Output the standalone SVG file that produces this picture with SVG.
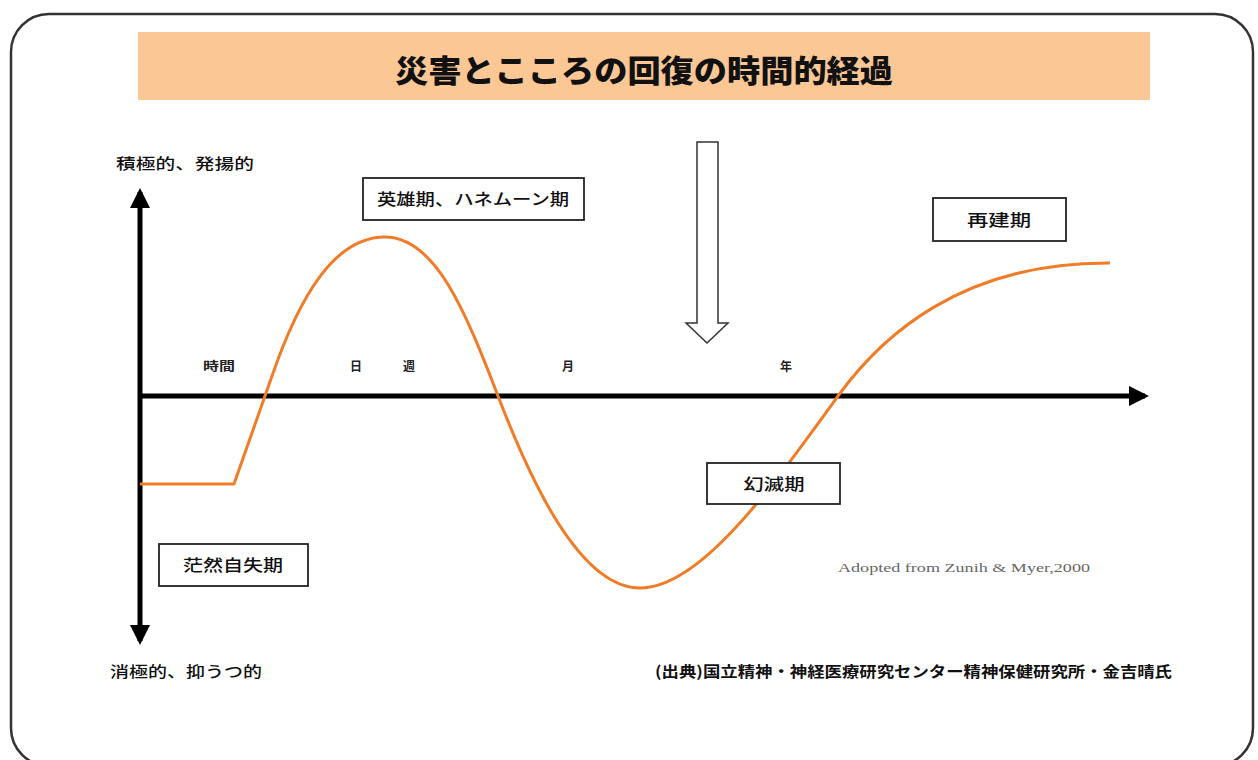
<svg xmlns="http://www.w3.org/2000/svg" width="1258" height="760" viewBox="0 0 1258 760">
<defs>
<style>
.jp{font-family:"Noto Sans CJK JP","Noto Sans CJK SC",sans-serif;fill:#111;}
.box{fill:#fff;stroke:#222;stroke-width:1.8;}
.lbl{font-size:16px;font-weight:500;}
.tick{font-size:12px;font-weight:700;fill:#222;}
.axis{stroke:#000;stroke-width:5;fill:none;}
</style>
<marker id="ah" viewBox="0 0 10 10" refX="8" refY="5" markerWidth="4" markerHeight="4" orient="auto" markerUnits="strokeWidth">
<path d="M0,0 L10,5 L0,10 z" fill="#000"/>
</marker>
</defs>
<rect width="1258" height="760" fill="#fff"/>
<rect x="11" y="14" width="1242" height="752" rx="38" ry="38" fill="none" stroke="#333" stroke-width="2.5"/>
<g id="title">
<rect x="138" y="32" width="1012" height="68" fill="#FBC795"/>
<text x="644" y="82" text-anchor="middle" class="jp" style="font-size:31px;font-weight:900" textLength="498" lengthAdjust="spacingAndGlyphs">災害とこころの回復の時間的経過</text>
</g>
<g id="connectors">
<line class="axis" x1="140" y1="396" x2="140" y2="192" marker-end="url(#ah)"/>
<line class="axis" x1="140" y1="396" x2="140" y2="641" marker-end="url(#ah)"/>
<line class="axis" x1="140" y1="396" x2="1145" y2="396" marker-end="url(#ah)"/>
<path id="curve" d="M140,484 L234,484 L272,376 C300,295 335,237 385,237 C435,237 465,310 498,396 C531,482 580,588 640,588 C700,588 770,490 838,396 C880,338 960,262 1110,263" fill="none" stroke="#F07C28" stroke-width="3" stroke-linejoin="round"/>
<path id="hollow-arrow" d="M697,142 L718,142 L718,323 L728,323 L707,343 L686,323 L697,323 Z" fill="#fff" stroke="#333" stroke-width="1.5" stroke-linejoin="miter"/>
</g>
<g id="axis-labels">
<text class="jp" x="116" y="169" style="font-size:15px;font-weight:500" textLength="138" lengthAdjust="spacingAndGlyphs">積極的、発揚的</text>
<text class="jp" x="110" y="677" style="font-size:15px;font-weight:500" textLength="152" lengthAdjust="spacingAndGlyphs">消極的、抑うつ的</text>
<text class="jp tick" x="203" y="371" textLength="32" lengthAdjust="spacingAndGlyphs">時間</text>
<text class="jp tick" x="350" y="371">日</text>
<text class="jp tick" x="403" y="371">週</text>
<text class="jp tick" x="562" y="371">月</text>
<text class="jp tick" x="780" y="371">年</text>
</g>
<g id="node-hero">
<rect class="box" x="363" y="178" width="221" height="42"/>
<text class="jp lbl" x="473" y="205" text-anchor="middle" textLength="192" lengthAdjust="spacingAndGlyphs">英雄期、ハネムーン期</text>
</g>
<g id="node-rebuild">
<rect class="box" x="933" y="198" width="133" height="43"/>
<text class="jp lbl" x="999" y="226" text-anchor="middle" textLength="64" lengthAdjust="spacingAndGlyphs">再建期</text>
</g>
<g id="node-disillusion">
<rect class="box" x="707" y="463" width="133" height="41"/>
<text class="jp lbl" x="774" y="490" text-anchor="middle" textLength="61" lengthAdjust="spacingAndGlyphs">幻滅期</text>
</g>
<g id="node-daze">
<rect class="box" x="159" y="544" width="149" height="42"/>
<text class="jp lbl" x="233" y="571" text-anchor="middle" textLength="100" lengthAdjust="spacingAndGlyphs">茫然自失期</text>
</g>
<text x="838" y="572" style="font-family:'Liberation Serif',serif;font-size:13px;fill:#666" textLength="252" lengthAdjust="spacingAndGlyphs">Adopted from Zunih &amp; Myer,2000</text>
<text class="jp" x="655" y="677" style="font-size:15px;font-weight:700" textLength="517" lengthAdjust="spacingAndGlyphs">(出典)国立精神・神経医療研究センター精神保健研究所・金吉晴氏</text>
</svg>
